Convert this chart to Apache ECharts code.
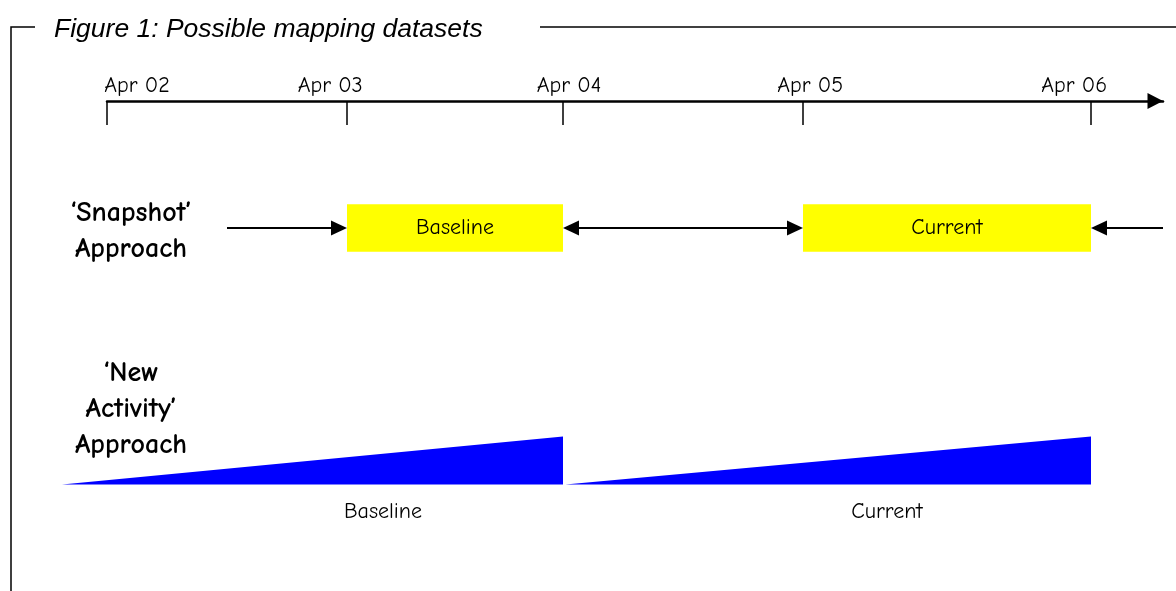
<!DOCTYPE html>
<html>
<head>
<meta charset="utf-8">
<title>Possible mapping datasets</title>
<script src="https://cdn.jsdelivr.net/npm/echarts@6/dist/echarts.min.js"></script>
<style>
  html, body { margin: 0; padding: 0; background: #fff; }
  #chart { width: 1176px; height: 591px; }
</style>
</head>
<body>
<div id="chart"></div>
<script>
// timeline (x in 'units', Apr 02 = 0)
const dateLabels = ['Apr 02', 'Apr 03', 'Apr 04', 'Apr 05', 'Apr 06'];
const dateTicks = [0, 10, 19, 29, 41];
const dateLabelPos = [1.25, 9.3, 19.25, 29.3, 40.3];

// row titles on the left
const rowNames = ['\u2018Snapshot\u2019\nApproach', '\u2018New\nActivity\u2019\nApproach'];
const rowLabelY = [36.0, 18.2];

// 'Snapshot' approach: fixed windows
const periods = ['Baseline', 'Current'];
const snapStart = [10, 29];
const snapEnd = [19, 41];
const snapY = 36.3;
const snapHalf = 2.38;

// arrows between windows
const arrowFrom = [5, 19, 44];
const arrowTo = [10, 29, 41];
const arrowBoth = [0, 1, 0];

// 'New Activity' approach: growing wedges
const actStart = [-1.875, 19.1];
const actEnd = [19, 41];
const actBase = 10.65;
const actPeak = [4.8, 4.8];
const actLabelX = [11.5, 32.5];
const actLabelY = 7.95;

const FONT = '"Comic Sans MS", "Comic Neue", "DejaVu Sans", sans-serif';

const chart = echarts.init(document.getElementById('chart'));

function renderBox(params, api) {
  const a = api.coord([api.value(0), api.value(2) + snapHalf]);
  const b = api.coord([api.value(1), api.value(2) - snapHalf]);
  return {
    type: 'group',
    children: [
      { type: 'rect', shape: { x: a[0], y: a[1], width: b[0] - a[0], height: b[1] - a[1] },
        style: { fill: '#ffff00' } },
      { type: 'text', x: (a[0] + b[0]) / 2, y: (a[1] + b[1]) / 2,
        style: { text: periods[params.dataIndex], fill: '#000', font: '22px ' + FONT,
                 align: 'center', verticalAlign: 'middle' } }
    ]
  };
}

function renderArrow(params, api) {
  const p1 = api.coord([api.value(0), api.value(2)]);
  const p2 = api.coord([api.value(1), api.value(2)]);
  const y = p1[1];
  const dir = p2[0] > p1[0] ? 1 : -1;
  const L = 16, H = 7.5;
  const head = (tip, d) => ({
    type: 'polygon',
    shape: { points: [[tip, y], [tip - d * L, y - H], [tip - d * L, y + H]] },
    style: { fill: '#000' }
  });
  const children = [];
  let a = p1[0], b = p2[0];
  children.push(head(b, dir));
  b -= dir * L;
  if (api.value(3)) {
    children.push(head(a, -dir));
    a += dir * L;
  }
  children.push({ type: 'line', shape: { x1: a, y1: y, x2: b, y2: y },
    style: { stroke: '#000', lineWidth: 2 } });
  return { type: 'group', children };
}

function renderWedge(params, api) {
  const s = api.coord([api.value(0), actBase]);
  const e = api.coord([api.value(1), actBase]);
  const t = api.coord([api.value(1), actBase + api.value(2)]);
  const l = api.coord([api.value(3), actLabelY]);
  return {
    type: 'group',
    children: [
      { type: 'polygon', shape: { points: [s, e, t] }, style: { fill: '#0000ff' } },
      { type: 'text', x: l[0], y: l[1],
        style: { text: periods[params.dataIndex], fill: '#000', font: '22px ' + FONT,
                 align: 'center', verticalAlign: 'middle' } }
    ]
  };
}

const option = {
  animation: false,
  title: {
    text: 'Figure 1: Possible mapping datasets',
    left: 54,
    top: 16,
    padding: 0,
    textStyle: { fontFamily: 'Arial, "Liberation Sans", sans-serif', fontStyle: 'italic',
                 fontWeight: 'normal', fontSize: 26.5, color: '#000' }
  },
  graphic: [
    { type: 'polyline', shape: { points: [[35, 27], [11, 27], [11, 591]] },
      style: { stroke: '#000', lineWidth: 1.5, fill: null } },
    { type: 'line', shape: { x1: 540, y1: 27, x2: 1176, y2: 27 },
      style: { stroke: '#000', lineWidth: 1.5 } }
  ],
  grid: { left: 107, right: 13, top: 101, bottom: 0 },
  xAxis: {
    type: 'value',
    position: 'top',
    min: 0,
    max: 44,
    splitLine: { show: false },
    axisLine: {
      onZero: false,
      lineStyle: { color: '#000', width: 2.5 },
      symbol: ['none', 'triangle'],
      symbolSize: [16, 15.5],
      symbolOffset: [0, -7.75]
    },
    axisTick: { inside: true, length: 24, customValues: dateTicks,
                lineStyle: { color: '#000', width: 1.5 } },
    axisLabel: {
      customValues: dateLabelPos,
      margin: 4,
      color: '#000',
      fontSize: 22,
      fontFamily: FONT,
      formatter: v => dateLabels[dateLabelPos.indexOf(v)]
    }
  },
  yAxis: {
    type: 'value',
    min: 0,
    max: 49,
    offset: -24,
    splitLine: { show: false },
    axisLine: { show: false },
    axisTick: { show: false },
    axisLabel: {
      customValues: rowLabelY,
      margin: 0,
      align: 'center',
      color: '#000',
      fontSize: 28,
      fontWeight: 'bold',
      fontFamily: FONT,
      lineHeight: 36,
      formatter: v => rowNames[rowLabelY.indexOf(v)]
    }
  },
  series: [
    {
      type: 'custom',
      name: 'Snapshot',
      renderItem: renderBox,
      encode: { x: [0, 1], y: 2 },
      data: snapStart.map((s, i) => [s, snapEnd[i], snapY])
    },
    {
      type: 'custom',
      name: 'Arrows',
      renderItem: renderArrow,
      encode: { x: [0, 1], y: 2 },
      data: arrowFrom.map((s, i) => [s, arrowTo[i], snapY, arrowBoth[i]])
    },
    {
      type: 'custom',
      name: 'New Activity',
      renderItem: renderWedge,
      encode: { x: [0, 1], y: 2 },
      data: actStart.map((s, i) => [s, actEnd[i], actPeak[i], actLabelX[i]])
    }
  ]
};

chart.setOption(option);
</script>
</body>
</html>
